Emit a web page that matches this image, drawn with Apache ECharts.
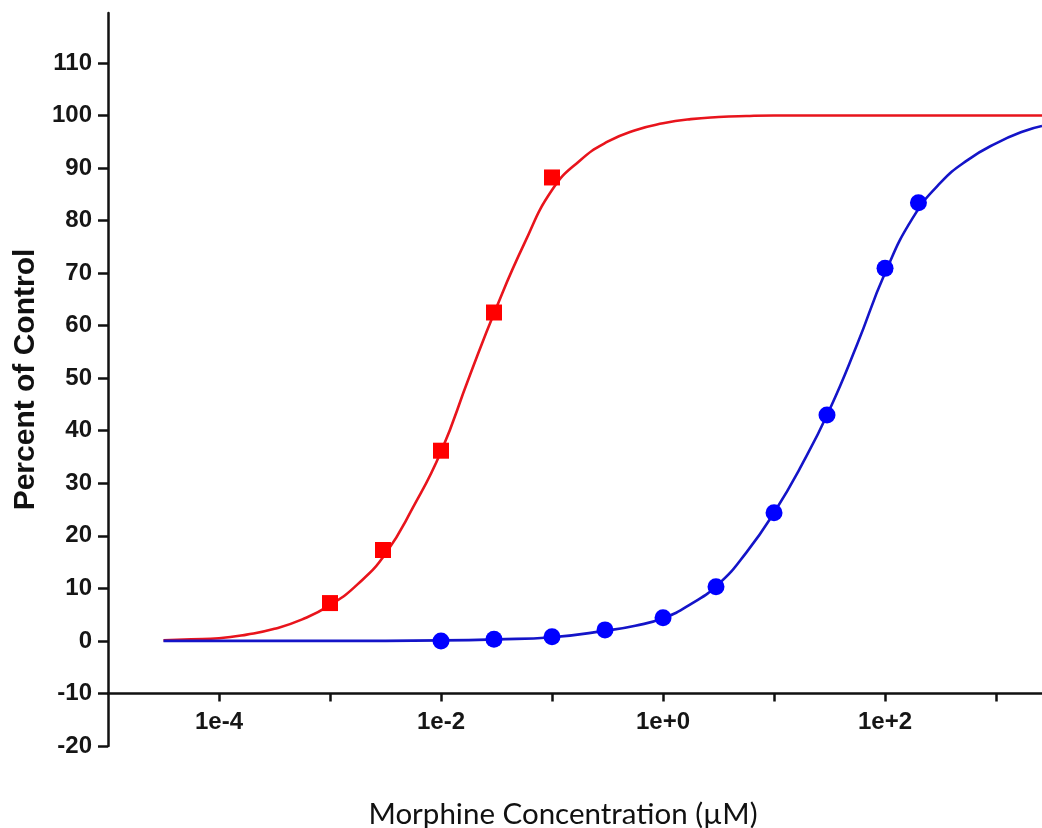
<!DOCTYPE html>
<html>
<head>
<meta charset="utf-8">
<title>Morphine concentration response</title>
<script src="https://cdn.jsdelivr.net/npm/echarts@6/dist/echarts.min.js"></script>
<style>
  html, body { margin: 0; padding: 0; background: #ffffff; }
  #chart { width: 1042px; height: 828px; }
</style>
</head>
<body>
<div id="chart"></div>
<script>
// Measured points: concentration (µM) and percent of control
const redConc = [0.001, 0.003, 0.01, 0.03, 0.1];
const redPct = [7.2, 17.3, 36.2, 62.5, 88.2];
const blueConc = [0.01, 0.03, 0.1, 0.3, 1, 3, 10, 30, 100, 200];
const bluePct = [0.0, 0.3, 0.8, 2.1, 4.4, 10.3, 24.4, 43.0, 70.9, 83.4];

// Fitted curves, sampled along log10(concentration)
const redFitLog = [-4.5, -4.25, -4, -3.75, -3.5, -3.25, -3, -2.75, -2.5, -2.25, -2, -1.75, -1.5, -1.25, -1, -0.75, -0.5, -0.25, 0, 0.25, 0.5, 0.75, 1, 2, 3.414];
const redFitPct = [0.1, 0.3, 0.5, 1.2, 2.3, 4.1, 6.8, 10.8, 16.6, 25.5, 36.0, 50.0, 63.5, 75.6, 85.8, 91.4, 95.0, 97.2, 98.5, 99.3, 99.7, 99.9, 100, 100, 100];
const blueFitLog = [-4.5, -3, -2, -1.5, -1, -0.5, -0.25, 0, 0.25, 0.5, 0.75, 1, 1.25, 1.5, 1.75, 2, 2.25, 2.5, 2.75, 3, 3.25, 3.414];
const blueFitPct = [0, 0, 0.1, 0.3, 0.7, 2.0, 2.9, 4.3, 7.0, 10.8, 16.8, 24.4, 33.5, 44.0, 56.5, 70.0, 80.5, 87.2, 91.6, 94.7, 97.0, 98.0];

// Axis ticks
const xTickExp = [-4, -3, -2, -1, 0, 1, 2, 3];
const xLabelExp = [-4, -2, 0, 2];
const yTicks = [-20, -10, 0, 10, 20, 30, 40, 50, 60, 70, 80, 90, 100, 110];

const X_MIN = -5, X_MAX = 3.414;
const Y_MIN = -20, Y_MAX = 119.5;
const GRID = { left: 108, right: 0, top: 13, bottom: 82, containLabel: false, outerBoundsMode: 'none' };
const plotHeight = 828 - GRID.top - GRID.bottom;
// the x axis crosses the y axis at -10
const xAxisOffset = -plotHeight * (-10 - Y_MIN) / (Y_MAX - Y_MIN);

const toLog = (c) => Math.log10(c);
const pairs = (xs, ys) => xs.map((x, i) => [x, ys[i]]);

const expLabel = (v) => {
  const e = Math.round(v);
  return '1e' + (e >= 0 ? '+' : '-') + Math.abs(e);
};

const axisLineStyle = { color: '#111111', width: 2.5 };
const labelFont = { fontFamily: 'Liberation Sans', fontWeight: 'bold', fontSize: 24, color: '#161616' };

const chart = echarts.init(document.getElementById('chart'), null, { renderer: 'canvas' });
chart.setOption({
  animation: false,
  backgroundColor: '#ffffff',
  grid: GRID,
  xAxis: {
    type: 'value',
    min: X_MIN,
    max: X_MAX,
    offset: xAxisOffset,
    axisLine: { show: true, onZero: false, lineStyle: axisLineStyle },
    axisTick: { show: true, customValues: xTickExp, length: 8, lineStyle: axisLineStyle },
    axisLabel: Object.assign({ customValues: xLabelExp, margin: 17, formatter: expLabel }, labelFont),
    splitLine: { show: false }
  },
  yAxis: {
    type: 'value',
    min: Y_MIN,
    max: Y_MAX,
    name: 'Percent of Control',
    nameLocation: 'middle',
    nameRotate: 90,
    nameGap: 67,
    nameTextStyle: { fontFamily: 'Liberation Sans', fontWeight: 'bold', fontSize: 30, color: '#111111' },
    axisLine: { show: true, onZero: false, lineStyle: axisLineStyle },
    axisTick: { show: true, customValues: yTicks, length: 10, lineStyle: axisLineStyle },
    axisLabel: Object.assign({ customValues: yTicks, margin: 16, formatter: (v) => String(v) }, labelFont),
    splitLine: { show: false }
  },
  graphic: [{
    type: 'text',
    x: 563,
    y: 814,
    style: {
      text: 'Morphine Concentration (µM)',
      font: '29.5px Lato',
      fill: '#111111',
      align: 'center',
      verticalAlign: 'middle'
    }
  }],
  series: [
    {
      name: 'red fit',
      type: 'line',
      data: pairs(redFitLog, redFitPct),
      showSymbol: false,
      smooth: 0.5,
      lineStyle: { color: '#e8141c', width: 2.6 },
      z: 2
    },
    {
      name: 'blue fit',
      type: 'line',
      data: pairs(blueFitLog, blueFitPct),
      showSymbol: false,
      smooth: 0.5,
      lineStyle: { color: '#1414c8', width: 2.6 },
      z: 3
    },
    {
      name: 'red points',
      type: 'scatter',
      data: pairs(redConc.map(toLog), redPct),
      symbol: 'rect',
      symbolSize: 16,
      itemStyle: { color: '#ff0000', opacity: 1 },
      z: 4
    },
    {
      name: 'blue points',
      type: 'scatter',
      data: pairs(blueConc.map(toLog), bluePct),
      symbol: 'circle',
      symbolSize: 17,
      itemStyle: { color: '#0000ff', opacity: 1 },
      z: 4
    }
  ]
});
</script>
</body>
</html>
